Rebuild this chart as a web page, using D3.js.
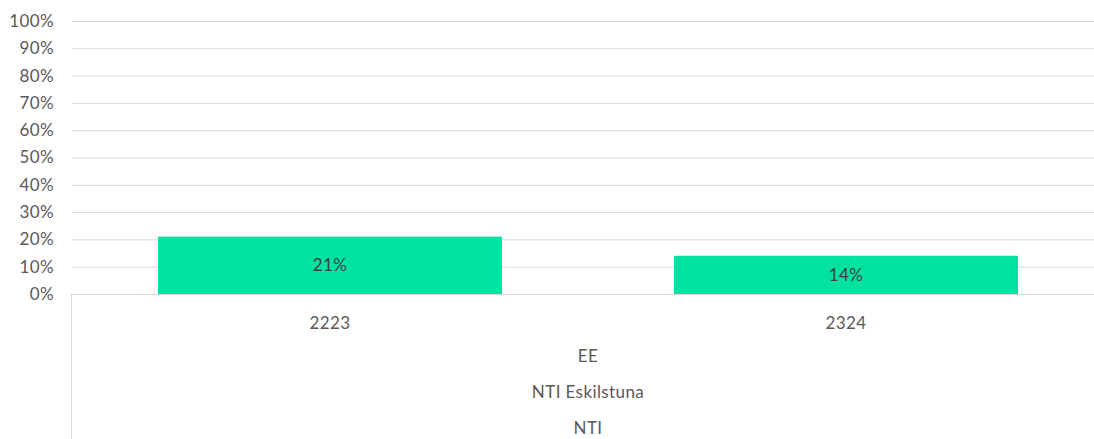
<!DOCTYPE html>
<html>
<head>
<meta charset="utf-8">
<script src="https://cdn.jsdelivr.net/npm/d3@7"></script>
<style>
html,body{margin:0;padding:0;background:#fff;overflow:hidden;}
svg{display:block;}
text{font-family:"Lato","Noto Sans",sans-serif;letter-spacing:0.4px;}
</style>
</head>
<body>
<svg id="chart" width="1094" height="439"></svg>
<script>
const categories = ["2223", "2324"];
const values = [0.21, 0.14];
const groupLevels = ["EE", "NTI Eskilstuna", "NTI"];
const yTicks = [0, 0.1, 0.2, 0.3, 0.4, 0.5, 0.6, 0.7, 0.8, 0.9, 1.0];

const svg = d3.select("#chart");
const plotLeft = 72, plotRight = 1104, plotTop = 21, plotBottom = 294;
const fs = "17px";

const x = d3.scaleBand().domain(categories).range([plotLeft, plotRight])
  .paddingInner(1/3).paddingOuter(1/6);
const y = d3.scaleLinear().domain([0, 1]).range([plotBottom, plotTop]);

// gridlines
svg.append("g").selectAll("line").data(yTicks).join("line")
  .attr("x1", plotLeft).attr("x2", plotRight)
  .attr("y1", d => y(d) + 0.5).attr("y2", d => y(d) + 0.5)
  .attr("stroke", "#d9d9d9").attr("stroke-width", 1);

// y axis labels
const yAxis = d3.axisLeft(y).tickValues(yTicks).tickFormat(d3.format(".0%")).tickSize(0).tickPadding(0);
const gy = svg.append("g").attr("transform", `translate(${plotLeft - 18},0)`).call(yAxis);
gy.select(".domain").remove();
gy.selectAll("text").attr("fill", "#595959").style("font-size", fs).style("font-family", "Lato, 'Noto Sans', sans-serif");

// bars
svg.append("g").selectAll("rect").data(values).join("rect")
  .attr("x", (d, i) => x(categories[i]))
  .attr("width", x.bandwidth())
  .attr("y", d => y(d))
  .attr("height", d => y(0) - y(d))
  .attr("fill", "#00E2A2");

// data labels
svg.append("g").selectAll("text").data(values).join("text")
  .attr("x", (d, i) => x(categories[i]) + x.bandwidth() / 2)
  .attr("y", d => (y(d) + y(0)) / 2)
  .attr("dy", "0.35em")
  .attr("text-anchor", "middle")
  .attr("fill", "#404040")
  .style("font-size", fs)
  .text(d => d3.format(".0%")(d));

// vertical axis line of the multi-level category axis
svg.append("line").attr("x1", plotLeft - 0.5).attr("x2", plotLeft - 0.5)
  .attr("y1", y(0)).attr("y2", 439)
  .attr("stroke", "#d9d9d9");

// category labels
const xAxis = d3.axisBottom(x).tickSize(0).tickPadding(0);
const gx = svg.append("g").attr("transform", `translate(0,${plotBottom + 29})`).call(xAxis);
gx.select(".domain").remove();
gx.selectAll("text").attr("dy", "0.35em").attr("y", 0).attr("fill", "#595959").style("font-size", fs).style("font-family", "Lato, 'Noto Sans', sans-serif");

// group levels
const levelY = [356, 392, 428];
svg.append("g").selectAll("text").data(groupLevels).join("text")
  .attr("x", (plotLeft + plotRight) / 2)
  .attr("y", (d, i) => levelY[i])
  .attr("dy", "0.35em")
  .attr("text-anchor", "middle")
  .attr("fill", "#595959")
  .style("font-size", fs)
  .text(d => d);
</script>
</body>
</html>
